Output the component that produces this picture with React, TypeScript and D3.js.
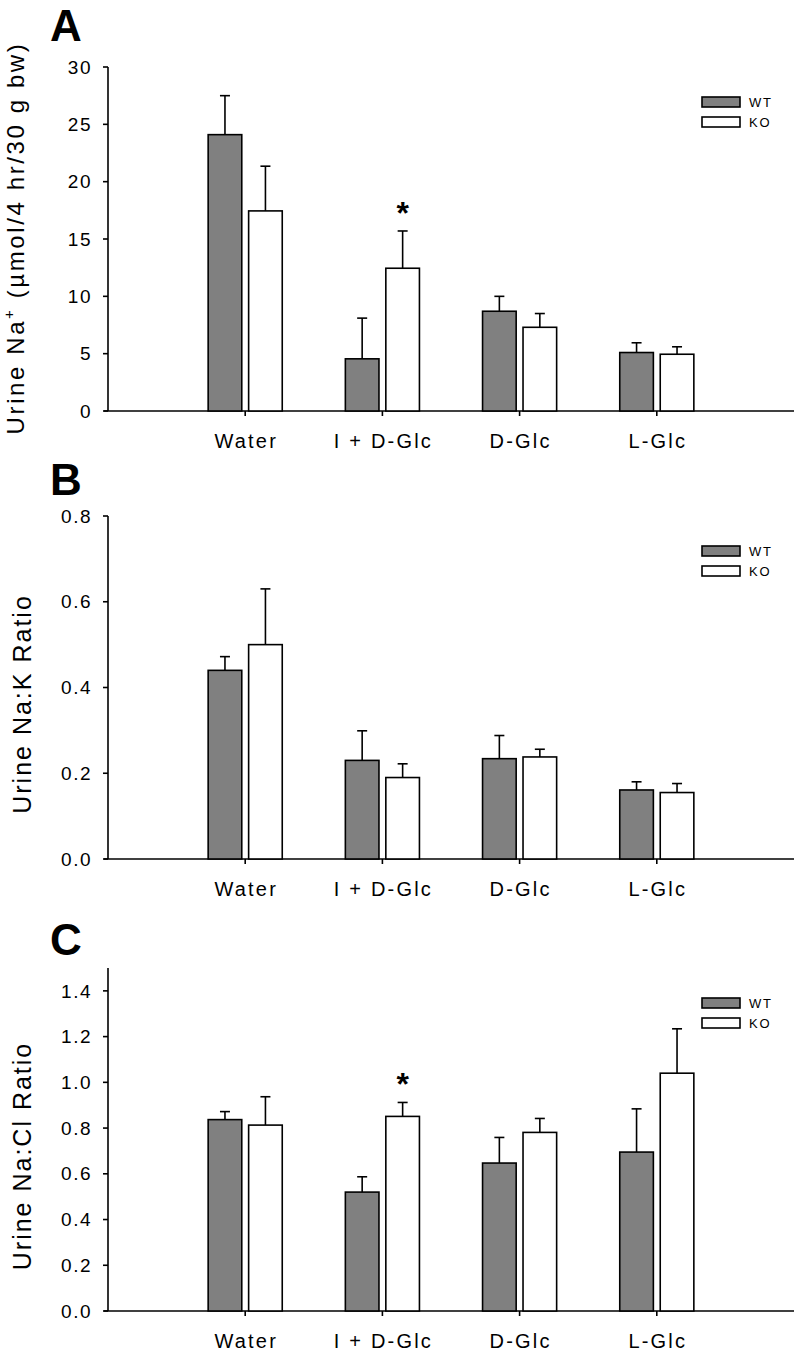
import React from "react";
import * as d3 from "d3";

const categories = ["Water", "I + D-Glc", "D-Glc", "L-Glc"];
const seriesNames = ["WT", "KO"];

// Panel A: Urine Na+ (µmol/4 hr/30 g bw)
const aWT = [24.1, 4.55, 8.7, 5.1];
const aWTerr = [3.4, 3.55, 1.3, 0.85];
const aKO = [17.45, 12.45, 7.3, 4.95];
const aKOerr = [3.9, 3.25, 1.2, 0.65];
const aTicks = [0, 5, 10, 15, 20, 25, 30];
const aStars = [false, true, false, false];

// Panel B: Urine Na:K Ratio
const bWT = [0.44, 0.23, 0.234, 0.161];
const bWTerr = [0.032, 0.069, 0.054, 0.019];
const bKO = [0.5, 0.19, 0.238, 0.155];
const bKOerr = [0.13, 0.032, 0.018, 0.021];
const bTicks = [0, 0.2, 0.4, 0.6, 0.8];
const bStars = [false, false, false, false];

// Panel C: Urine Na:Cl Ratio
const cWT = [0.837, 0.52, 0.647, 0.695];
const cWTerr = [0.035, 0.067, 0.112, 0.189];
const cKO = [0.813, 0.851, 0.781, 1.04];
const cKOerr = [0.124, 0.061, 0.061, 0.194];
const cTicks = [0, 0.2, 0.4, 0.6, 0.8, 1.0, 1.2, 1.4];
const cStars = [false, true, false, false];

const FONT = "Arial, 'Liberation Sans', Helvetica, sans-serif";
const GRAY = "#808080";
const SW = 1.6;

type PanelProps = {
  letter: string;
  letterY: number;
  y0: number;
  yTop: number;
  domainMax: number;
  ticks: number[];
  fmt: (v: number) => string;
  wt: number[];
  wtErr: number[];
  ko: number[];
  koErr: number[];
  stars: boolean[];
  label: React.ReactNode;
  labelX: number;
  labelY: number;
  labelSize: number;
  labelSpacing: number;
};

function Panel(p: PanelProps) {
  const x = d3.scaleLinear().domain([0, categories.length + 1]).range([108, 794]);
  const y = d3.scaleLinear().domain([0, p.domainMax]).range([p.y0, p.yTop]);
  const unit = x(1) - x(0);
  const barW = unit * 0.245;
  const gap = unit * 0.05;
  const capW = 10;
  const series = [
    { vals: p.wt, errs: p.wtErr, fill: GRAY, side: -1 },
    { vals: p.ko, errs: p.koErr, fill: "#ffffff", side: 1 },
  ];
  const legY = p.yTop + 30;
  return (
    <g>
      <text x={50} y={p.letterY} fontFamily={FONT} fontWeight="bold" fontSize={44}>
        {p.letter}
      </text>
      {/* y axis */}
      <line x1={x(0)} x2={x(0)} y1={y(p.domainMax)} y2={y(0)} stroke="#000" strokeWidth={SW} />
      {p.ticks.map((t) => (
        <g key={t}>
          <line x1={x(0) - 5} x2={x(0)} y1={y(t)} y2={y(t)} stroke="#000" strokeWidth={SW} />
          <text
            x={92}
            y={y(t)}
            dy="0.35em"
            textAnchor="end"
            fontFamily={FONT}
            fontSize={19}
            letterSpacing={1.5}
          >
            {p.fmt(t)}
          </text>
        </g>
      ))}
      {/* x axis */}
      <line x1={x(0) - 4} x2={x(categories.length + 1)} y1={y(0)} y2={y(0)} stroke="#000" strokeWidth={SW} />
      {categories.map((c, i) => (
        <g key={c}>
          <line x1={x(i + 1)} x2={x(i + 1)} y1={y(0)} y2={y(0) + 5} stroke="#000" strokeWidth={SW} />
          <text
            x={x(i + 1) + 1}
            y={y(0) + 37}
            textAnchor="middle"
            fontFamily={FONT}
            fontSize={20}
            letterSpacing={2.2}
          >
            {c}
          </text>
        </g>
      ))}
      {/* bars */}
      {series.map((s, si) =>
        s.vals.map((v, i) => {
          const cx = x(i + 1);
          const left = s.side < 0 ? cx - gap / 2 - barW : cx + gap / 2;
          const mid = left + barW / 2;
          const top = y(v);
          const et = y(v + s.errs[i]);
          return (
            <g key={`${si}-${i}`}>
              <line x1={mid} x2={mid} y1={top} y2={et} stroke="#000" strokeWidth={SW} />
              <line x1={mid - capW / 2} x2={mid + capW / 2} y1={et} y2={et} stroke="#000" strokeWidth={SW} />
              <rect
                x={left}
                y={top}
                width={barW}
                height={y(0) - top}
                fill={s.fill}
                stroke="#000"
                strokeWidth={SW}
              />
              {si === 1 && p.stars[i] ? (
                <text
                  x={mid}
                  y={et - 7}
                  textAnchor="middle"
                  fontFamily={FONT}
                  fontWeight="bold"
                  fontSize={32}
                >
                  *
                </text>
              ) : null}
            </g>
          );
        })
      )}
      {/* legend */}
      {seriesNames.map((n, i) => (
        <g key={n}>
          <rect
            x={702}
            y={legY + i * 20}
            width={38}
            height={10}
            fill={i === 0 ? GRAY : "#fff"}
            stroke="#000"
            strokeWidth={SW}
          />
          <text x={749} y={legY + i * 20 + 9.5} fontFamily={FONT} fontSize={13} letterSpacing={1.8}>
            {n}
          </text>
        </g>
      ))}
      {/* y label */}
      <text
        transform={`translate(${p.labelX},${p.labelY}) rotate(-90)`}
        textAnchor="middle"
        fontFamily={FONT}
        fontSize={p.labelSize}
        letterSpacing={p.labelSpacing}
      >
        {p.label}
      </text>
    </g>
  );
}

export default function App() {
  const f0 = (v: number) => d3.format("d")(v);
  const f1 = (v: number) => d3.format(".1f")(v);
  return (
    <svg
      width={796}
      height={1351}
      viewBox="0 0 796 1351"
      style={{ position: "absolute", left: 0, top: 0, background: "#fff" }}
    >
      <rect width={796} height={1351} fill="#fff" />
      <Panel
        letter="A"
        letterY={41}
        y0={411}
        yTop={67}
        domainMax={30}
        ticks={aTicks}
        fmt={f0}
        wt={aWT}
        wtErr={aWTerr}
        ko={aKO}
        koErr={aKOerr}
        stars={aStars}
        label={
          <>
            Urine Na
            <tspan dy={-10} fontSize={15}>+</tspan>
            <tspan dy={10}> (µmol/4 hr/30 g bw)</tspan>
          </>
        }
        labelX={24}
        labelY={238}
        labelSize={24}
        labelSpacing={2.6}
      />
      <Panel
        letter="B"
        letterY={495}
        y0={859}
        yTop={516}
        domainMax={0.8}
        ticks={bTicks}
        fmt={f1}
        wt={bWT}
        wtErr={bWTerr}
        ko={bKO}
        koErr={bKOerr}
        stars={bStars}
        label="Urine Na:K Ratio"
        labelX={31}
        labelY={704}
        labelSize={25}
        labelSpacing={2}
      />
      <Panel
        letter="C"
        letterY={955}
        y0={1311}
        yTop={968}
        domainMax={1.5}
        ticks={cTicks}
        fmt={f1}
        wt={cWT}
        wtErr={cWTerr}
        ko={cKO}
        koErr={cKOerr}
        stars={cStars}
        label="Urine Na:Cl Ratio"
        labelX={31}
        labelY={1156}
        labelSize={25}
        labelSpacing={2}
      />
    </svg>
  );
}
